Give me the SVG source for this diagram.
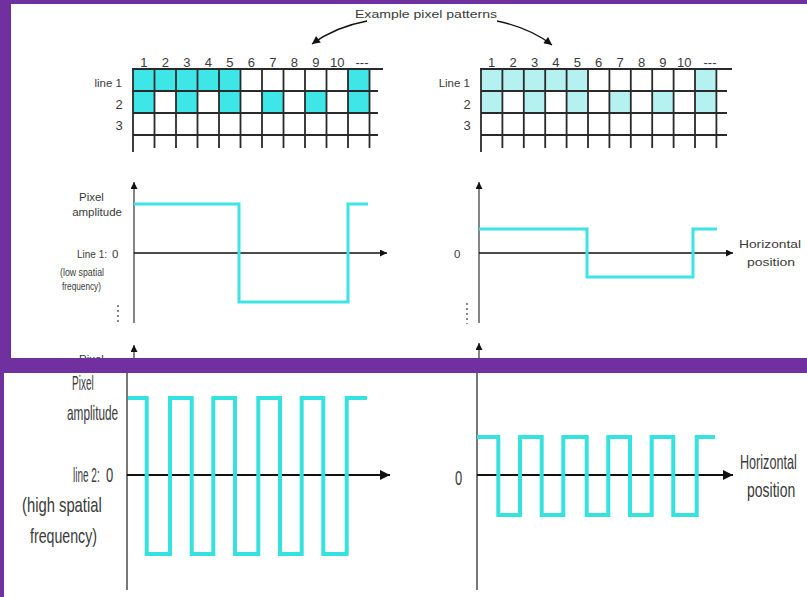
<svg xmlns="http://www.w3.org/2000/svg" width="807" height="597" viewBox="0 0 807 597">
<defs>
<style>
.t{font-family:"Liberation Sans",Arial,sans-serif;fill:#3a3a3a;font-size:11.5px}
.n{font-family:"Liberation Sans",Arial,sans-serif;fill:#3a3a3a;font-size:13px;text-anchor:middle}
.b{font-family:"Liberation Sans",Arial,sans-serif;fill:#3a3a3a;font-size:20px}
.g{stroke:#2a2a2a;stroke-width:1.8;fill:none}
.fc{fill:#3fe6e8}
.fl{fill:#b6f1f1}
.ax{stroke:#111;stroke-width:1.3;fill:none}
.ay{stroke:#666;stroke-width:1.6;fill:none}
.axb{stroke:#111;stroke-width:2;fill:none}
.ayb{stroke:#777;stroke-width:2;fill:none}
.w{stroke:#3fe3e3;stroke-width:3;fill:none}
.wb{stroke:#36e2e0;stroke-width:4;fill:none}
.dot{stroke:#555;stroke-width:1.4;stroke-dasharray:2 3}
</style>
<marker id="ah" viewBox="0 0 10 10" refX="10" refY="5" markerWidth="10" markerHeight="7" markerUnits="userSpaceOnUse" orient="auto"><path d="M0,0 L10,5 L0,10 z" fill="#111"/></marker>
<marker id="ahb" viewBox="0 0 10 10" refX="10" refY="5" markerWidth="13" markerHeight="10" markerUnits="userSpaceOnUse" orient="auto"><path d="M0,0 L10,5 L0,10 z" fill="#111"/></marker>
<marker id="ahc" viewBox="0 0 10 10" refX="10" refY="5" markerWidth="12" markerHeight="8" markerUnits="userSpaceOnUse" orient="auto"><path d="M0,0 L10,5 L0,10 z" fill="#111"/></marker>
<clipPath id="topclip"><rect x="11" y="4" width="796" height="354"/></clipPath>
</defs>
<rect x="0" y="0" width="807" height="597" fill="#7030a0"/>
<rect x="11" y="4" width="796" height="354" fill="#ffffff"/>
<rect x="4" y="373" width="803" height="224" fill="#ffffff"/>

<g clip-path="url(#topclip)">
<g id="title">
<text class="t" x="355" y="18" textLength="142" lengthAdjust="spacingAndGlyphs">Example pixel patterns</text>
</g>

<g id="grid-left">
<rect class="fc" x="133" y="69" width="107.5" height="22"/>
<rect class="fc" x="348" y="69" width="21.5" height="22"/>
<rect class="fc" x="133" y="91" width="21.5" height="22"/>
<rect class="fc" x="176" y="91" width="21.5" height="22"/>
<rect class="fc" x="219" y="91" width="21.5" height="22"/>
<rect class="fc" x="262" y="91" width="21.5" height="22"/>
<rect class="fc" x="305" y="91" width="21.5" height="22"/>
<rect class="fc" x="348" y="91" width="21.5" height="22"/>
<path class="g" d="M154.5,69V148M176,69V148M197.5,69V148M219,69V148M240.5,69V148M262,69V148M283.5,69V148M305,69V148M326.5,69V148M348,69V148M369.5,69V148M133,91H378M133,113H378M133,135H378"/>
<path class="g" stroke-width="2.6" d="M133,68V152M132,69H383"/>
<text class="n" x="143.8" y="67">1</text><text class="n" x="165.3" y="67">2</text><text class="n" x="186.8" y="67">3</text><text class="n" x="208.3" y="67">4</text><text class="n" x="229.8" y="67">5</text><text class="n" x="251.3" y="67">6</text><text class="n" x="272.8" y="67">7</text><text class="n" x="294.3" y="67">8</text><text class="n" x="315.8" y="67">9</text><text class="n" x="337.3" y="67">10</text><text class="n" x="362" y="67">---</text>
<text class="t" x="122" y="87" text-anchor="end" font-size="12">line 1</text>
<text class="n" x="119" y="109">2</text>
<text class="n" x="119" y="130">3</text>
</g>

<g id="grid-right">
<rect class="fl" x="481" y="69" width="107" height="22"/>
<rect class="fl" x="695" y="69" width="21.4" height="22"/>
<rect class="fl" x="481" y="91" width="21.4" height="22"/>
<rect class="fl" x="523.8" y="91" width="21.4" height="22"/>
<rect class="fl" x="566.6" y="91" width="21.4" height="22"/>
<rect class="fl" x="609.4" y="91" width="21.4" height="22"/>
<rect class="fl" x="652.2" y="91" width="21.4" height="22"/>
<rect class="fl" x="695" y="91" width="21.4" height="22"/>
<path class="g" d="M502.4,69V148M523.8,69V148M545.2,69V148M566.6,69V148M588,69V148M609.4,69V148M630.8,69V148M652.2,69V148M673.6,69V148M695,69V148M716.4,69V148M481,91H727M481,113H727M481,135H727"/>
<path class="g" stroke-width="2.6" d="M481,68V152M480,69H732"/>
<text class="n" x="491.7" y="67">1</text><text class="n" x="513.1" y="67">2</text><text class="n" x="534.5" y="67">3</text><text class="n" x="555.9" y="67">4</text><text class="n" x="577.3" y="67">5</text><text class="n" x="598.7" y="67">6</text><text class="n" x="620.1" y="67">7</text><text class="n" x="641.5" y="67">8</text><text class="n" x="662.9" y="67">9</text><text class="n" x="684.3" y="67">10</text><text class="n" x="710" y="67">---</text>
<text class="t" x="470" y="87" text-anchor="end" font-size="12">Line 1</text>
<text class="n" x="467" y="109">2</text>
<text class="n" x="467" y="130">3</text>
</g>

<g id="graph-line1-left">
<line class="ay" x1="134" y1="323" x2="134" y2="182" marker-end="url(#ah)"/>
<line class="ax" x1="134" y1="253" x2="387" y2="253" marker-end="url(#ah)"/>
<path class="w" d="M134,204H239V302H348V204H368"/>
<text class="t" x="79" y="201">Pixel</text>
<text class="t" x="122" y="216" text-anchor="end">amplitude</text>
<text class="t" x="77" y="258" textLength="30" lengthAdjust="spacingAndGlyphs">Line 1:</text>
<text class="t" x="112" y="258">0</text>
<text class="t" x="60" y="276" textLength="44" lengthAdjust="spacingAndGlyphs">(low spatial</text>
<text class="t" x="62" y="290" textLength="39" lengthAdjust="spacingAndGlyphs">frequency)</text>
<line class="dot" x1="118" y1="305" x2="118" y2="324"/>
<line class="ay" x1="134" y1="362" x2="134" y2="345" marker-end="url(#ah)"/>
<text class="t" x="79" y="363">Pixel</text>
</g>

<g id="graph-line1-right">
<line class="ay" x1="479" y1="323" x2="479" y2="182" marker-end="url(#ah)"/>
<line class="ax" x1="479" y1="253" x2="733" y2="253" marker-end="url(#ah)"/>
<path class="w" d="M479,229H587V277H693V229H717"/>
<text class="t" x="454" y="258">0</text>
<text class="t" x="739" y="248" textLength="62" lengthAdjust="spacingAndGlyphs">Horizontal</text>
<text class="t" x="747" y="266" textLength="48" lengthAdjust="spacingAndGlyphs">position</text>
<line class="dot" x1="467" y1="303" x2="467" y2="324"/>
<line class="ay" x1="479" y1="362" x2="479" y2="343" marker-end="url(#ah)"/>
</g>
</g>

<g id="graph-line2-left">
<line class="ayb" x1="127" y1="373" x2="127" y2="590"/>
<line class="axb" x1="127" y1="475" x2="390" y2="475" marker-end="url(#ahb)"/>
<path class="wb" d="M128,398H146.7V554H170V398H191.7V554H213.3V398H235V554H258.3V398H280V554H301.7V398H323.3V554H346.7V398H367"/>
<text class="b" transform="matrix(0.5 0 0 1 72 390)">Pixel</text>
<text class="b" transform="matrix(0.59 0 0 1 67 420)">amplitude</text>
<text class="b" transform="matrix(0.5 0 0 1 73 482)">line 2:</text>
<text class="b" transform="matrix(0.65 0 0 1 106 482)">0</text>
<text class="b" transform="matrix(0.74 0 0 1 22 512)">(high spatial</text>
<text class="b" transform="matrix(0.71 0 0 1 30 543)">frequency)</text>
</g>

<g id="graph-line2-right">
<line class="ayb" x1="477" y1="373" x2="477" y2="590"/>
<line class="axb" x1="477" y1="475" x2="733" y2="475" marker-end="url(#ahb)"/>
<path class="wb" d="M477,437H498.3V515H520V437H541.7V515H563.3V437H586.7V515H608.3V437H630V515H651.7V437H673.3V515H696.7V437H715"/>
<text class="b" transform="matrix(0.65 0 0 1 455 485)">0</text>
<text class="b" transform="matrix(0.63 0 0 1 740 469)">Horizontal</text>
<text class="b" transform="matrix(0.7 0 0 1 747 497)">position</text>
</g>

<g id="connectors">
<path class="ax" stroke-width="1.6" d="M367,21Q335,27 312,44" marker-end="url(#ahc)"/>
<path class="ax" stroke-width="1.6" d="M497,21Q530,28 552,45" marker-end="url(#ahc)"/>
</g>
</svg>
